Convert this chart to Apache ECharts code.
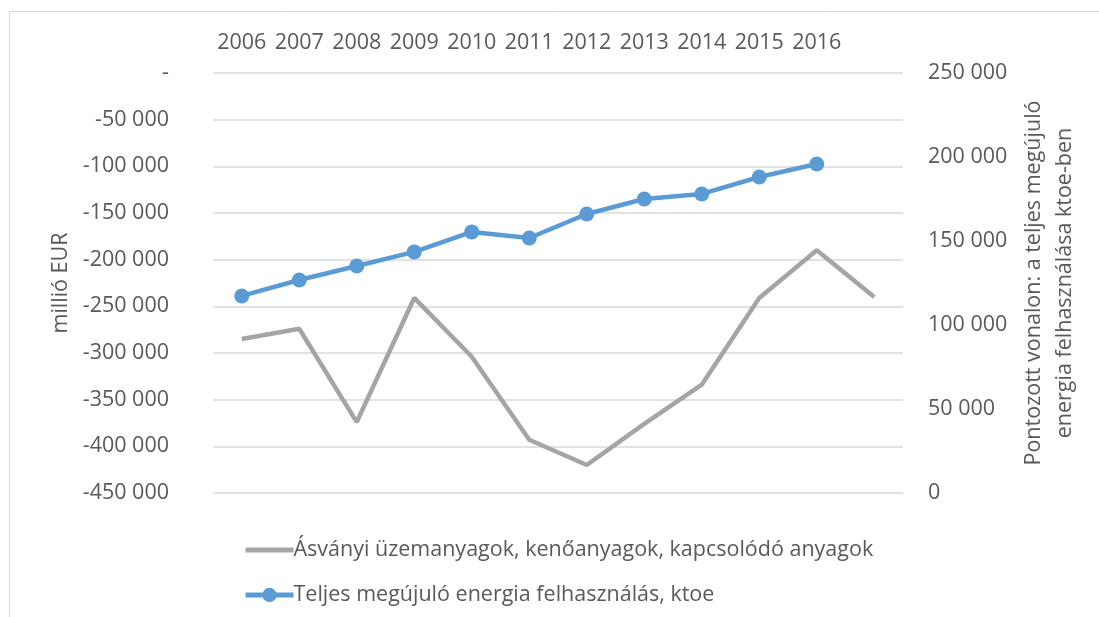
<!DOCTYPE html>
<html>
	<head>
		<meta charset="UTF-8">
		<title></title>
		<script src="https://cdn.jsdelivr.net/npm/echarts@6/dist/echarts.min.js"></script>
		<style>
			body { margin: 0; background: #fff; }
		</style>
	</head>
	<body>
		<div id="main" style="width: 1099px;height:617px;"></div>

		<script type="text/javascript">
			var years = ['2006', '2007', '2008', '2009', '2010', '2011', '2012', '2013', '2014', '2015', '2016', ''];
			// millió EUR (bal tengely)
			var asvanyi = [-285000, -274000, -374000, -241000, -304000, -393000, -420000, -376000, -334000, -241000, -190000, -240000];
			// ktoe (jobb tengely)
			var megujulo = [117300, 126800, 135100, 143500, 155400, 151800, 166100, 175000, 178000, 188100, 195800, null];

			var fontFam = '"Open Sans", sans-serif';
			var txt = '#595959';
			var fs = 21.5;

			function sep(v) {
				var s = Math.abs(v).toString().replace(/\B(?=(\d{3})+(?!\d))/g, ' ');
				return (v < 0 ? '-' : '') + s;
			}
			function fmtLeft(v) {
				return v === 0 ? '-' : sep(v);
			}

			option = {
				textStyle: { fontFamily: fontFam },
				graphic: [{
					type: 'rect',
					shape: { x: 9.5, y: 11.5, width: 1100, height: 620 },
					style: { fill: 'none', stroke: '#d9d9d9', lineWidth: 1 },
					silent: true
				}],
				grid: { left: 213, right: 196, top: 73, bottom: 124 },
				legend: {
					orient: 'vertical',
					left: 238,
					top: 534,
					itemGap: 23,
					itemWidth: 48,
					itemHeight: 18,
					textStyle: { color: txt, fontSize: fs, fontFamily: fontFam, padding: [0, 0, 0, -5] },
					data: [
						{ name: 'Ásványi üzemanyagok, kenőanyagok, kapcsolódó anyagok', itemStyle: { opacity: 0 }, lineStyle: { width: 5 } },
						{ name: 'Teljes megújuló energia felhasználás, ktoe', lineStyle: { width: 5 } }
					]
				},
				xAxis: {
					type: 'category',
					position: 'top',
					data: years,
					boundaryGap: true,
					axisLine: { show: false },
					axisTick: { show: false },
					axisLabel: { color: txt, fontSize: fs, margin: 19, interval: 0 }
				},
				yAxis: [{
					type: 'value',
					min: -450000,
					max: 0,
					interval: 50000,
					name: 'millió EUR',
					nameLocation: 'middle',
					nameGap: 140,
					nameRotate: 90,
					nameTextStyle: { color: txt, fontSize: fs },
					axisLine: { show: false },
					axisTick: { show: false },
					axisLabel: { color: txt, fontSize: fs, margin: 44, formatter: fmtLeft },
					splitLine: { lineStyle: { color: '#d9d9d9', width: 1.5 } }
				}, {
					type: 'value',
					min: 0,
					max: 250000,
					interval: 50000,
					position: 'right',
					name: 'Pontozott vonalon: a teljes megújuló\nenergia felhasználása ktoe-ben',
					nameLocation: 'middle',
					nameGap: 115,
					nameRotate: 90,
					nameTextStyle: { color: txt, fontSize: fs, lineHeight: 31 },
					axisLine: { show: false },
					axisTick: { show: false },
					axisLabel: { color: txt, fontSize: fs, margin: 25, formatter: sep },
					splitLine: { show: false }
				}],
				series: [{
					name: 'Ásványi üzemanyagok, kenőanyagok, kapcsolódó anyagok',
					type: 'line',
					yAxisIndex: 0,
					data: asvanyi,
					symbol: 'none',
					lineStyle: { color: '#a5a5a5', width: 4.5 },
					itemStyle: { color: '#a5a5a5' }
				}, {
					name: 'Teljes megújuló energia felhasználás, ktoe',
					type: 'line',
					yAxisIndex: 1,
					data: megujulo,
					symbol: 'circle',
					symbolSize: 15,
					lineStyle: { color: '#5b9bd5', width: 4.5 },
					itemStyle: { color: '#5b9bd5' }
				}]
			};

			echarts.init(document.getElementById('main')).setOption(option);
		</script>
	</body>
</html>
